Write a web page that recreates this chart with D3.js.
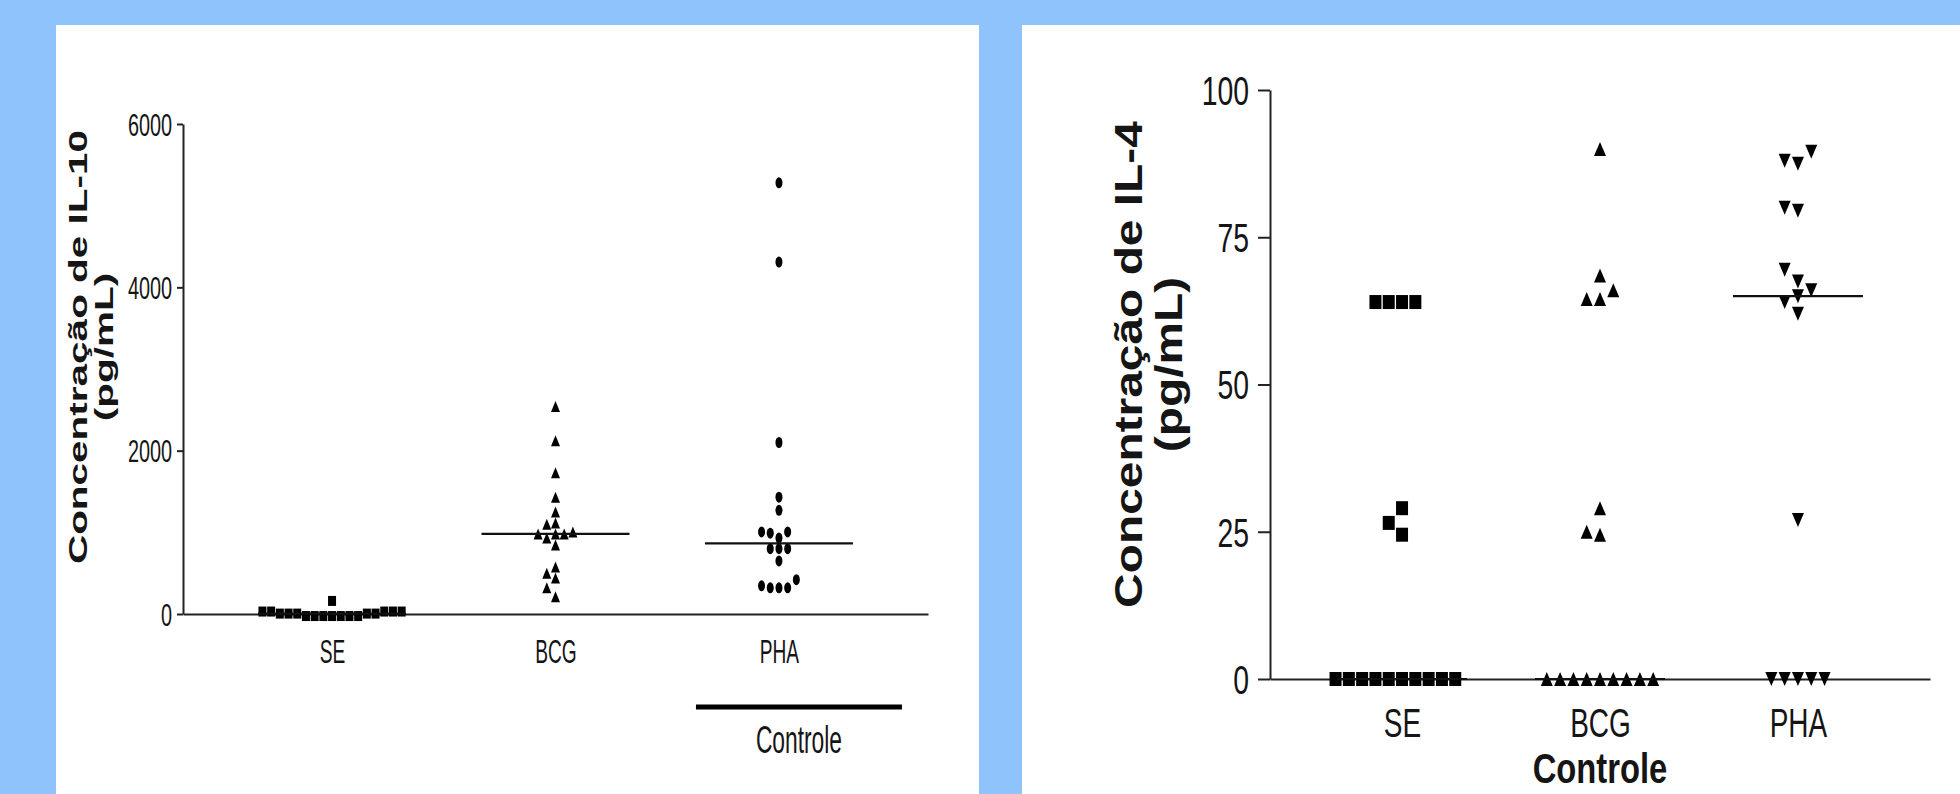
<!DOCTYPE html>
<meta charset="utf-8">
<title>IL-10 / IL-4</title>
<style>
  body {
    margin: 0;
    padding: 0;
    overflow: hidden;
    background-color: #8fc3fb;
  }
  svg text {
    font-family: "Liberation Sans", Arial, sans-serif;
    fill: #151515;
  }
</style>

<body>
  <script src="https://cdn.jsdelivr.net/npm/d3@7"></script>
  <script>
    // groups on the x axis
    var groups = ["SE", "BCG", "PHA"];

    // IL-10 (pg/mL), left panel
    var il10SE = [30, 30, 30, 5, 5, -25, -25, -25, -25, -25, -25, -25, 5, 5, 5, 30, 30, 160];
    var il10BCG = [2540, 2120, 1730, 1430, 1250, 1115, 1100, 980, 980, 980, 1005, 930, 845, 575, 500, 440, 320, 210];
    var il10PHA = [5280, 4310, 2100, 1430, 1270, 1005, 990, 1005, 930, 800, 800, 800, 650, 420, 320, 320, 320, 345];
    var il10Ticks = [0, 2000, 4000, 6000];
    var il10Title = ["Concentração de IL-10", "(pg/mL)"];

    // IL-4 (pg/mL), right panel
    var il4SE = [64, 64, 64, 64, 29, 26.5, 24.5, 0, 0, 0, 0, 0, 0, 0, 0, 0, 0];
    var il4BCG = [90, 68.5, 66, 64.5, 64.5, 29, 25, 24.5, 0, 0, 0, 0, 0, 0, 0, 0, 0];
    var il4PHA = [89.5, 88, 87.5, 80, 79.5, 69.5, 67.5, 66, 65, 64, 62, 27, 0, 0, 0, 0, 0];
    var il4Ticks = [0, 25, 50, 75, 100];
    var il4Title = ["Concentração de IL-4", "(pg/mL)"];

    var groupLabel = "Controle";

    var width = 1960,
      height = 794;

    var svg = d3.select("body").append("svg")
      .attr("width", width)
      .attr("height", height);

    svg.append("rect").attr("width", width).attr("height", height).attr("fill", "#8fc3fb");
    svg.append("rect").attr("x", 56).attr("y", 25).attr("width", 923).attr("height", height - 25).attr("fill", "#fff");
    svg.append("rect").attr("x", 1022).attr("y", 25).attr("width", width - 1022).attr("height", height - 25).attr("fill", "#fff");

    function markerPath(shape, w, h) {
      var a = w / 2, b = h / 2;
      if (shape == "square") return `M${-a},${-b}H${a}V${b}H${-a}Z`;
      if (shape == "triangle") return `M0,${-b}L${a},${b}L${-a},${b}Z`;
      if (shape == "down") return `M${-a},${-b}L${a},${-b}L0,${b}Z`;
      return `M${-a},0A${a},${b} 0 1 0 ${a},0A${a},${b} 0 1 0 ${-a},0Z`;
    }

    // simple column dodge, like a scatter dot plot
    function dodge(values, y, cx, step, minGap) {
      var placed = [];
      return values.slice().sort((a, b) => a - b).map(v => {
        var py = y(v);
        for (var k = 0; ; k++) {
          var slots = k == 0 ? [0] : [-k, k];
          for (var s of slots) {
            if (!placed.some(p => p.s == s && Math.abs(p.y - py) < minGap)) {
              placed.push({ s: s, y: py });
              return { v: v, x: cx + s * step, y: py };
            }
          }
        }
      });
    }

    function drawPanel(cfg) {
      var g = svg.append("g");
      var y = d3.scaleLinear().domain(cfg.domain).range([cfg.bottom, cfg.top]);
      var x = d3.scalePoint().domain(groups).range([cfg.left, cfg.right]).padding(0.667);

      var yAxis = g.append("g")
        .attr("transform", `translate(${cfg.left},0)`)
        .call(d3.axisLeft(y).tickValues(cfg.ticks).tickSize(cfg.tickLen).tickSizeOuter(0).tickFormat(d3.format("d")));
      yAxis.select(".domain").attr("stroke", "#222").attr("stroke-width", 2);
      yAxis.selectAll(".tick line").attr("stroke", "#222").attr("stroke-width", 2);
      yAxis.selectAll(".tick text")
        .attr("x", 0).attr("dy", null)
        .attr("y", cfg.tickFont * 0.36)
        .attr("transform", `translate(${-(cfg.tickLen + cfg.labelGap)},0) scale(${cfg.tickSx},1)`)
        .style("font-size", cfg.tickFont + "px")
        .style("font-family", '"Liberation Sans", Arial, sans-serif')
        .attr("fill", "#151515");

      var xAxis = g.append("g")
        .attr("transform", `translate(0,${y(0)})`)
        .call(d3.axisBottom(x).tickSize(0).tickSizeOuter(0));
      xAxis.select(".domain").attr("stroke", "#222").attr("stroke-width", 2);
      xAxis.selectAll(".tick text")
        .attr("y", 0).attr("dy", null)
        .attr("transform", `translate(0,${cfg.catBaseline}) scale(${cfg.catSx},1)`)
        .style("font-size", cfg.catFont + "px")
        .style("font-family", '"Liberation Sans", Arial, sans-serif')
        .attr("fill", "#151515");

      cfg.series.forEach((vals, i) => {
        var cx = x(groups[i]);
        var pts = dodge(vals, y, cx, cfg.step, cfg.minGap);
        g.append("g").selectAll("path").data(pts)
          .enter().append("path")
          .attr("transform", d => `translate(${d.x},${d.y})`)
          .attr("d", markerPath(cfg.shapes[i], cfg.sizes[i][0], cfg.sizes[i][1]))
          .attr("fill", "#000");
        var med = d3.median(vals);
        g.append("line")
          .attr("x1", cx - cfg.medianHalf).attr("x2", cx + cfg.medianHalf)
          .attr("y1", y(med)).attr("y2", y(med))
          .attr("stroke", "#111").attr("stroke-width", 2.2);
      });

      cfg.title.forEach((t, i) => {
        g.append("g")
          .attr("transform", `translate(${cfg.titleX[i]},${(cfg.top + cfg.bottom) / 2 + cfg.titleShift}) rotate(-90) scale(${cfg.titleSx},1)`)
          .append("text")
          .attr("text-anchor", "middle")
          .style("font-size", cfg.titleFont + "px")
          .style("font-weight", "bold")
          .text(t);
      });
      return x;
    }

    var xl = drawPanel({
      left: 183, right: 928, top: 124, bottom: 614,
      domain: [0, 6000], ticks: il10Ticks,
      tickLen: 6, labelGap: 5, tickFont: 31, tickSx: 0.64,
      catFont: 33, catSx: 0.58, catBaseline: 49,
      series: [il10SE, il10BCG, il10PHA],
      shapes: ["square", "triangle", "circle"],
      sizes: [[8, 10], [9, 11], [7, 11]],
      step: 8.7, minGap: 10, medianHalf: 74,
      title: il10Title, titleX: [87, 113], titleShift: -22, titleFont: 25, titleSx: 1.62
    });

    var xr = drawPanel({
      left: 1270, right: 1930, top: 90, bottom: 679,
      domain: [0, 100], ticks: il4Ticks,
      tickLen: 12, labelGap: 9, tickFont: 40, tickSx: 0.71,
      catFont: 40, catSx: 0.7, catBaseline: 58,
      series: [il4SE, il4BCG, il4PHA],
      shapes: ["square", "triangle", "down"],
      sizes: [[12, 14], [12, 14], [12, 14]],
      step: 13.3, minGap: 14, medianHalf: 65,
      title: il4Title, titleX: [1142, 1182], titleShift: -20, titleFont: 38, titleSx: 1.26
    });

    // "Controle" bracket under PHA, left panel
    svg.append("line")
      .attr("x1", xl("PHA") - 83).attr("x2", xl("PHA") + 123)
      .attr("y1", 707).attr("y2", 707)
      .attr("stroke", "#000").attr("stroke-width", 5);
    svg.append("g")
      .attr("transform", `translate(${xl("PHA") + 20},753) scale(0.6,1)`)
      .append("text")
      .attr("text-anchor", "middle")
      .style("font-size", "38px")
      .text(groupLabel);

    // "Controle" label, right panel
    svg.append("g")
      .attr("transform", `translate(${xr("BCG")},783) scale(0.78,1)`)
      .append("text")
      .attr("text-anchor", "middle")
      .style("font-size", "42px")
      .style("font-weight", "bold")
      .text(groupLabel);
  </script>
</body>
